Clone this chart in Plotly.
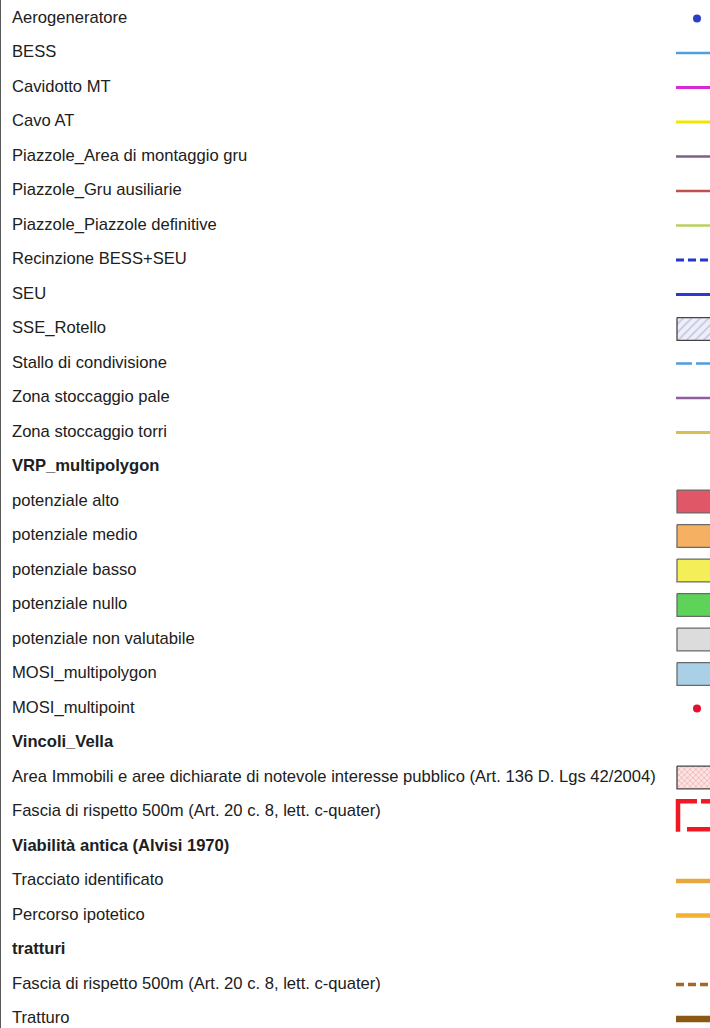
import plotly.graph_objects as go

# ---- data ----
labels = [
    "Aerogeneratore", "BESS", "Cavidotto MT", "Cavo AT",
    "Piazzole_Area di montaggio gru", "Piazzole_Gru ausiliarie",
    "Piazzole_Piazzole definitive", "Recinzione BESS+SEU", "SEU",
    "SSE_Rotello", "Stallo di condivisione", "Zona stoccaggio pale",
    "Zona stoccaggio torri", "VRP_multipolygon", "potenziale alto",
    "potenziale medio", "potenziale basso", "potenziale nullo",
    "potenziale non valutabile", "MOSI_multipolygon", "MOSI_multipoint",
    "Vincoli_Vella",
    "Area Immobili e aree dichiarate di notevole interesse pubblico (Art. 136 D. Lgs 42/2004)",
    "Fascia di rispetto 500m (Art. 20 c. 8, lett. c-quater)",
    "Viabilità antica (Alvisi 1970)", "Tracciato identificato",
    "Percorso ipotetico", "tratturi",
    "Fascia di rispetto 500m (Art. 20 c. 8, lett. c-quater)", "Tratturo",
]
kinds = [
    "dot", "line", "line", "line", "line", "line", "line", "dash", "line",
    "hatch", "longdash", "line", "line", "header", "rect", "rect", "rect",
    "rect", "rect", "rect", "dot", "header", "cross", "bracket", "header",
    "line", "line", "header", "dash", "line",
]
colors = [
    "#2a3ec8", "#4d9fe0", "#d62ad6", "#f2e600", "#7d6088", "#c0504d",
    "#b8d060", "#2535d0", "#2b3acc", "#a8acd8", "#4d9fe0", "#8e5e9e",
    "#d8bf50", None, "#e05868", "#f5b062", "#f4ee58", "#5ed35a",
    "#dcdcdc", "#a9d0e6", "#e0102e", None, "#f3bcbc", "#f01824", None,
    "#e6a640", "#f5b02e", None, "#a06a22", "#8b5914",
]
widths = [
    0, 2.6, 3, 3, 2.6, 2.6, 2.6, 3, 2.8, 0, 2.6, 2.6, 3, 0, 0, 0, 0, 0, 0,
    0, 0, 0, 0, 4.5, 0, 4.5, 4.5, 0, 3.5, 6.5,
]

# ---- layout constants ----
W, H = 710, 1028
ROW0, ROWH = 18.5, 34.5
TEXT_X = 12
SX0, SX1 = 676, 714
DOT_X = 697
RECT_HALF = 0.33  # in row units

fig = go.Figure()

n = len(labels)
ys = list(range(n))

# labels
fig.add_trace(go.Scatter(
    x=[TEXT_X] * n, y=ys, mode="text",
    text=[f"<b>{t}</b>" if k == "header" else t for t, k in zip(labels, kinds)],
    textposition="middle right",
    textfont=dict(family="Liberation Sans, Arial", size=16.6, color="#202020"),
    hoverinfo="skip", showlegend=False,
))

for i, (k, c, w) in enumerate(zip(kinds, colors, widths)):
    if k == "dot":
        fig.add_trace(go.Scatter(x=[DOT_X], y=[i], mode="markers",
                                 marker=dict(color=c, size=8, line=dict(width=0)),
                                 hoverinfo="skip", showlegend=False))
    elif k in ("line", "dash", "longdash"):
        dash = {"line": "solid", "dash": "8px,4px", "longdash": "16px,4px"}[k]
        fig.add_trace(go.Scatter(x=[SX0, SX1], y=[i, i], mode="lines",
                                 line=dict(color=c, width=w, dash=dash),
                                 hoverinfo="skip", showlegend=False))
    elif k in ("rect", "hatch", "cross"):
        x0, x1 = SX0 + 1, SX1
        y0, y1 = i - RECT_HALF, i + RECT_HALF
        kw = {}
        if k == "hatch":
            kw["fillpattern"] = dict(shape="/", bgcolor="#eeeef8", fgcolor="#8f95c8",
                                     size=6, solidity=0.25)
        elif k == "cross":
            kw["fillpattern"] = dict(shape="x", bgcolor="#fbe4e4", fgcolor="#e06a6a",
                                     size=4, solidity=0.3)
        fig.add_trace(go.Scatter(x=[x0, x1, x1, x0, x0], y=[y0, y0, y1, y1, y0],
                                 mode="lines", fill="toself", fillcolor=c,
                                 line=dict(color="#6a6a6a" if k == "rect" else "#444444", width=1.3),
                                 hoverinfo="skip", showlegend=False, **kw))
    elif k == "bracket":
        x0, x1 = SX0 + 2, SX1
        y0, y1 = i - 0.31, i + 0.50
        # top edge (with a short gap), left edge, bottom edge
        fig.add_trace(go.Scatter(x=[x0 + 19, x0, x0], y=[y0, y0, y1 + 0.07],
                                 mode="lines", line=dict(color=c, width=w),
                                 hoverinfo="skip", showlegend=False))
        fig.add_trace(go.Scatter(x=[x0 + 23, x1], y=[y0, y0],
                                 mode="lines", line=dict(color=c, width=w),
                                 hoverinfo="skip", showlegend=False))
        fig.add_trace(go.Scatter(x=[x0 + 9, x1], y=[y1, y1],
                                 mode="lines", line=dict(color=c, width=w),
                                 hoverinfo="skip", showlegend=False))

# left border
fig.add_shape(type="line", x0=0, x1=0, y0=0, y1=1, xref="paper", yref="paper",
              line=dict(color="#222222", width=1.5))

fig.update_layout(
    width=W, height=H, margin=dict(l=0, r=0, t=0, b=0),
    paper_bgcolor="white", plot_bgcolor="white",
    xaxis=dict(range=[0, W], visible=False, fixedrange=True),
    yaxis=dict(range=[(H - ROW0) / ROWH, -ROW0 / ROWH],
               visible=False, fixedrange=True),
)

fig.write_html(
    "out.html",
    config={"displayModeBar": False, "staticPlot": True},
    post_script="document.body.style.margin='0';document.body.style.overflow='hidden';",
)
